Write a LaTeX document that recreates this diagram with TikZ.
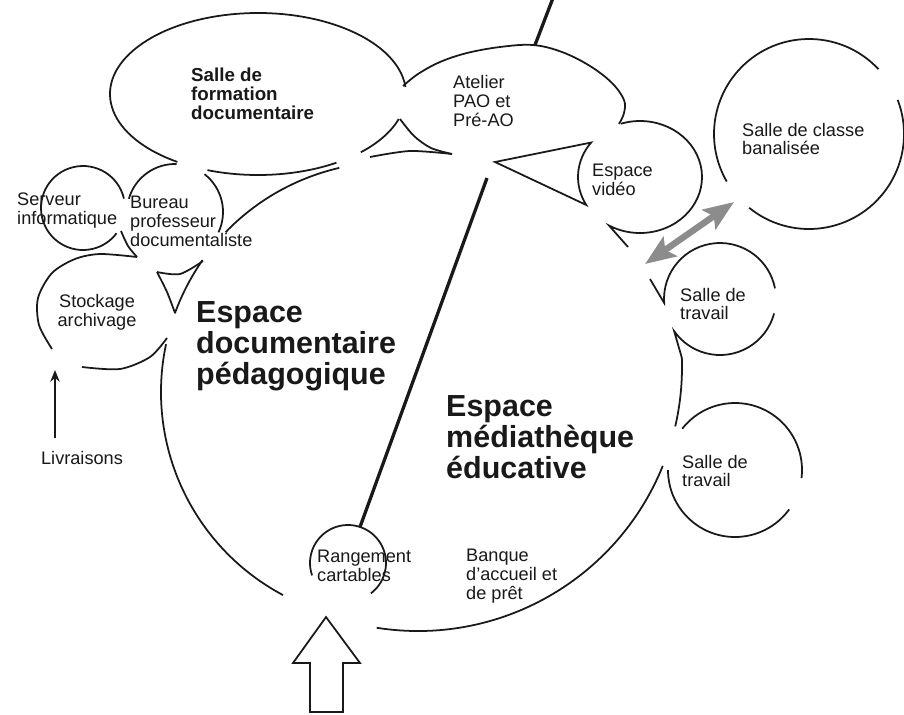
\documentclass[tikz,border=0pt]{standalone}
\usepackage{fontspec}
\setmainfont{Liberation Sans}
\usetikzlibrary{arrows.meta}

\begin{document}
\begin{tikzpicture}[
    x=0.03cm, y=-0.03cm,
    every node/.style={inner sep=0pt, text=black!90},
    room/.style={font=\fontsize{15.5}{16.2}\selectfont, align=left, anchor=west},
    roomb/.style={font=\fontsize{16}{16.2}\selectfont\bfseries, align=left, anchor=west},
    zone/.style={font=\fontsize{26}{26.5}\selectfont\bfseries, align=left, anchor=west},
    wall/.style={draw=black!90, line width=1.5pt},
    cloison/.style={draw=black!90, line width=2.8pt},
    porte/.style={draw=black!90, line width=1.5pt},
    liaison/.style={{Stealth[length=26pt,width=20pt,inset=5pt]}-{Stealth[length=26pt,width=20pt,inset=5pt]}, draw=black!45, fill=black!45, line width=5.5pt},
    livraison/.style={-{Stealth[length=10pt,width=8pt]}, draw=black!90, line width=2pt}
]
\useasboundingbox[fill=white] (0,0) rectangle (904,714);

% Centres des salles
\coordinate (docc) at (391,392);
\coordinate (medc) at (418,367);
\coordinate (form) at (258,94);
\coordinate (vidc) at (640,177);
\coordinate (clac) at (809,134);
\coordinate (tr1c) at (720,299);
\coordinate (tr2c) at (735,470);
\coordinate (burc) at (175,212);
\coordinate (serc) at (83,208);
\coordinate (ranc) at (348,563);

% Salle de formation
\draw[wall] ([shift={(123:148 and 81)}]form) arc[start angle=123, end angle=355, x radius=148, y radius=81];
\draw[wall] ([shift={(110:148 and 81)}]form) arc[start angle=110, end angle=58, x radius=148, y radius=81];
\draw[wall] ([shift={(46:148 and 81)}]form) arc[start angle=46, end angle=18, x radius=148, y radius=81];

% Atelier PAO
\draw[wall] plot[smooth, tension=0.6] coordinates {(403,86) (418,74) (440,62) (467,53) (500,47) (533,45) (562,52) (590,66) (612,83) (624,100) (624,113) (619,124)};
\draw[wall] plot[smooth] coordinates {(400,119) (414,136) (431,148) (452,154)};
\draw[wall] plot[smooth] coordinates {(370,157) (410,151) (452,154)};

% Espace video
\draw[wall] ([shift={(-108:62 and 56)}]vidc) arc[start angle=-108, end angle=120, x radius=62, y radius=56] -- (628,247);
\draw[wall] (495,162) -- ([shift={(218:62 and 56)}]vidc) arc[start angle=218, end angle=150, x radius=62, y radius=56] -- cycle;

% Salle de classe
\draw[wall] ([shift={(-43:95)}]clac) arc[start angle=-43, end angle=-210, radius=95];
\draw[wall] ([shift={(129:95)}]clac) arc[start angle=129, end angle=-21, radius=95];

% Salles de travail
\draw[wall] (650,279) -- ([shift={(176:56)}]tr1c) arc[start angle=176, end angle=349, radius=56];
\draw[wall] ([shift={(15:56)}]tr1c) arc[start angle=15, end angle=145, radius=56] -- ([shift={(-2:264)}]medc) arc[start angle=-2, end angle=13, radius=264];
\draw[wall] ([shift={(-142:67)}]tr2c) arc[start angle=-142, end angle=7, radius=67];
\draw[wall] ([shift={(180:67)}]tr2c) arc[start angle=180, end angle=36, radius=67];

% Mediatheque
\draw[wall] ([shift={(99:264)}]medc) arc[start angle=99, end angle=22, radius=264];

% Espace documentaire
\draw[wall] ([shift={(-103:230)}]docc) arc[start angle=-103, end angle=-136, radius=230];
\draw[wall] ([shift={(-145:230)}]docc) arc[start angle=-145, end angle=-160, radius=230];
\draw[wall] ([shift={(192:230)}]docc) arc[start angle=192, end angle=118, radius=230];
\draw[wall] plot[smooth] coordinates {(157,272) (180,274) (203,261)};
\draw[wall] plot[smooth] coordinates {(157,272) (167,292) (175,313)};

% Bureau, serveur, stockage
\draw[wall] ([shift={(-164:48)}]burc) arc[start angle=-164, end angle=-88, radius=48];
\draw[wall] ([shift={(-52:48)}]burc) arc[start angle=-52, end angle=25, radius=48];
\draw[wall] plot[smooth] coordinates {(121,231) (128,246) (137,257)};
\draw[wall] ([shift={(-13:42)}]serc) arc[start angle=-13, end angle=-323, radius=42];
\draw[wall] plot[smooth] coordinates {(52,349) (39,325) (38,298) (52,273) (75,259) (100,254) (137,257)};
\draw[wall] plot[smooth] coordinates {(167,338) (150,357) (120,369) (82,367)};

% Rangement
\draw[wall] ([shift={(161:38)}]ranc) arc[start angle=161, end angle=413, radius=38];

% Cloison
\coordinate (cl1) at (553,-2);
\coordinate (cl2) at (535,45);
\coordinate (cl3) at (487,178);
\coordinate (cl4) at (360,527);
\draw[cloison] (cl1) -- (cl2);
\draw[cloison] (cl3) -- (cl4);

% Entree
\draw[porte] (310,712) -- (310,663) -- (293,663) -- (326,617) -- (360,663) -- (343,663) -- (343,712) -- cycle;

% Textes
\node[roomb] (formation) at (191,94) {Salle de\\formation\\documentaire};
\node[room] (atelier) at (453,101) {Atelier\\PAO et\\Pré-AO};
\node[room] (video) at (592,180) {Espace\\vidéo};
\node[room] (classe) at (742,139) {Salle de classe\\banalisée};
\node[room] (travail1) at (680,304) {Salle de\\travail};
\node[room] (travail2) at (682,471) {Salle de\\travail};
\node[room] (banque) at (466,576) {Banque\\d'accueil et\\de prêt};
\node[room] (rangement) at (317,566) {Rangement\\cartables};
\node[room] (serveur) at (17,211) {Serveur\\informatique};
\node[room] (bureau) at (130,221) {Bureau\\professeur\\documentaliste};
\node[room, align=center, anchor=center] (stockage) at (97,312) {Stockage\\archivage};
\node[zone] (doc) at (196,346) {Espace\\documentaire\\pédagogique};
\node[zone] (media) at (446,437) {Espace\\médiathèque\\éducative};
\node[room, anchor=center] (livr) at (82,458) {Livraisons};

% Fleches
\coordinate (livrbase) at (55,438);
\coordinate (livrtip) at (55,370);
\draw[livraison] (livrbase) -- (livrtip);
\coordinate (lia1) at (645,264);
\coordinate (lia2) at (734,202);
\draw[liaison] (lia1) -- (lia2);

\end{tikzpicture}
\end{document}
